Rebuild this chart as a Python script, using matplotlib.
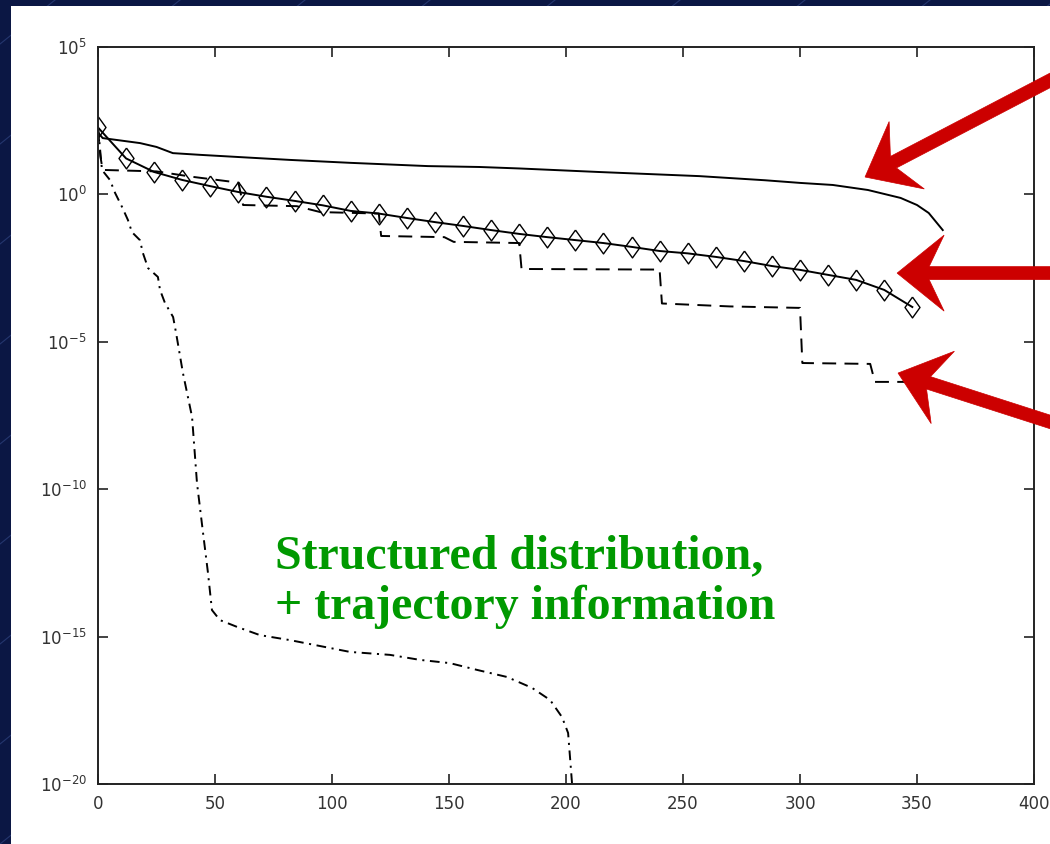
import numpy as np
import matplotlib
matplotlib.use("Agg")
import matplotlib.pyplot as plt
from matplotlib.patches import Polygon, Rectangle
from matplotlib.lines import Line2D
import matplotlib.transforms as mtransforms

# ---------------- data (y given as log10) ----------------
solid_x = [0, 2, 18, 25, 32, 44, 64, 82, 108, 141, 163, 180, 214, 257, 285, 300, 314, 329, 343, 350, 355, 361]
solid_log10 = [2.1, 1.91, 1.74, 1.61, 1.40, 1.34, 1.25, 1.17, 1.07, 0.96, 0.93, 0.88, 0.76, 0.62, 0.48, 0.39, 0.32, 0.15, -0.12, -0.36, -0.63, -1.21]

diamond_x = [0, 12, 24, 36, 48, 60, 72, 84, 96, 108, 120, 132, 144, 156, 168, 180, 192, 204,
             216, 228, 240, 252, 264, 276, 288, 300, 312, 324, 336, 348]
diamond_log10 = [2.27, 1.22, 0.76, 0.49, 0.28, 0.08, -0.08, -0.22, -0.37, -0.56, -0.65, -0.80, -0.94,
                 -1.07, -1.21, -1.34, -1.45, -1.55, -1.65, -1.78, -1.92, -2.00, -2.12, -2.26, -2.43,
                 -2.56, -2.73, -2.90, -3.24, -3.82]

dashed_x = [0, 1, 2, 25, 40, 55, 60, 62, 85, 95, 120, 121, 148, 152, 180, 181, 240, 241, 270, 300, 301, 330, 332, 345]
dashed_log10 = [2.25, 1.3, 0.83, 0.78, 0.6, 0.45, 0.4, -0.36, -0.40, -0.60, -0.65, -1.41, -1.45, -1.61,
                -1.65, -2.53, -2.55, -3.70, -3.80, -3.85, -5.72, -5.75, -6.36, -6.36]

dashdot_x = [0, 1.7, 5.1, 7.3, 10.3, 12.8, 14.5, 17.9, 19.2, 21.4, 25.6, 26.5, 28.6, 32.1, 33.3, 36.3,
             40.2, 42.3, 44.9, 47.0, 48.7, 52.1, 59.4, 69.2, 82.1, 107.7, 124.8, 137.6, 150.4, 162.0,
             174.8, 185.5, 193.2, 198.3, 200.9, 201.7, 202.6]
dashdot_log10 = [2.29, 0.83, 0.49, 0.05, -0.43, -0.87, -1.28, -1.55, -1.99, -2.50, -2.80, -3.24, -3.68,
                 -4.16, -4.67, -6.06, -7.55, -9.79, -11.49, -12.84, -14.10, -14.44, -14.67, -14.95,
                 -15.12, -15.52, -15.62, -15.79, -15.90, -16.13, -16.37, -16.74, -17.15, -17.73,
                 -18.27, -19.08, -20.0]

x_ticks = [0, 50, 100, 150, 200, 250, 300, 350, 400]
y_tick_exponents = [5, 0, -5, -10, -15, -20]

annotation_lines = ["Structured distribution,", "+ trajectory information"]
# arrow tips (data coords: x, log10 y)
arrow_tips = [(327.8, 0.59), (341.5, -2.67), (341.9, -6.06)]

# ---------------- figure ----------------
W, H = 1050, 844
fig = plt.figure(figsize=(W / 100, H / 100), dpi=100, facecolor="#0b1744")

# faint diagonal texture on the dark background
for c in range(-1000, 900, 100):
    fig.add_artist(Line2D([0, 1], [c / H, (c + 0.8 * W) / H], transform=fig.transFigure,
                          color="#24366e", lw=0.8, zorder=-3))

# white slide panel
fig.add_artist(Rectangle((11 / W, 0), 1, (H - 6) / H, transform=fig.transFigure,
                         facecolor="white", edgecolor="none", zorder=-2))

ax = fig.add_axes([98 / W, 60 / H, (1034 - 98) / W, (784 - 47) / H])
ax.set_facecolor("white")

to_val = lambda arr: 10.0 ** np.asarray(arr, dtype=float)
tall_diamond = [(0, 1), (0.72, 0), (0, -1), (-0.72, 0), (0, 1)]

plt.rcParams["lines.scale_dashes"] = False
ax.plot(solid_x, to_val(solid_log10), color="black", lw=1.4)
ax.plot(diamond_x, to_val(diamond_log10), color="black", lw=1.4, marker=tall_diamond, markersize=15,
        markerfacecolor="none", markeredgecolor="black", markeredgewidth=1.0)
ax.plot(dashed_x, to_val(dashed_log10), color="black", lw=1.4, linestyle=(0, (10, 6)))
ax.plot(dashdot_x, to_val(dashdot_log10), color="black", lw=1.4, linestyle=(0, (7, 4, 1.5, 4)))

ax.set_yscale("log")
ax.set_xlim(0, 400)
ax.set_ylim(1e-20, 1e5)
ax.set_xticks(x_ticks)
ax.set_yticks([10.0 ** e for e in y_tick_exponents])
ax.yaxis.set_minor_locator(matplotlib.ticker.NullLocator())
ax.tick_params(axis="both", which="major", direction="in", length=7, width=1.2,
               top=True, right=True, labelsize=12, labelcolor="#333333", color="#222222", pad=8)
for s in ax.spines.values():
    s.set_linewidth(1.4)
    s.set_color("#222222")

# green annotation text
fig.text(275 / W, 1 - 568 / H, annotation_lines[0], family="Liberation Serif", weight="bold",
         fontsize=34.5, color="#009900", va="baseline", ha="left", zorder=6)
fig.text(275 / W, 1 - 619 / H, annotation_lines[1], family="Liberation Serif", weight="bold",
         fontsize=34.5, color="#009900", va="baseline", ha="left", zorder=6)

# red arrows (built in display pixels)
fig.canvas.draw()
tail_fig = [(1.03, 1 - 64 / H), (1.03, None), (1.03, 1 - 432 / H)]
L, Nj, Wh, w = 47, 32, 38, 6.5
for (tx, tly), (fx, fy) in zip(arrow_tips, tail_fig):
    T = np.array(ax.transData.transform((tx, 10.0 ** tly)))
    if fy is None:
        S = np.array([fx * W, T[1]])
    else:
        S = np.array(fig.transFigure.transform((fx, fy)))
    u = (S - T) / np.linalg.norm(S - T)
    n = np.array([-u[1], u[0]])
    pts = [T, T + u * L + n * Wh, T + u * Nj + n * w, S + n * w, S - n * w,
           T + u * Nj - n * w, T + u * L - n * Wh]
    fig.add_artist(Polygon(pts, closed=True, transform=mtransforms.IdentityTransform(),
                           facecolor="#cc0000", edgecolor="#cc0000", lw=0.5, zorder=7))

fig.savefig("out.png", dpi=100, facecolor=fig.get_facecolor())
